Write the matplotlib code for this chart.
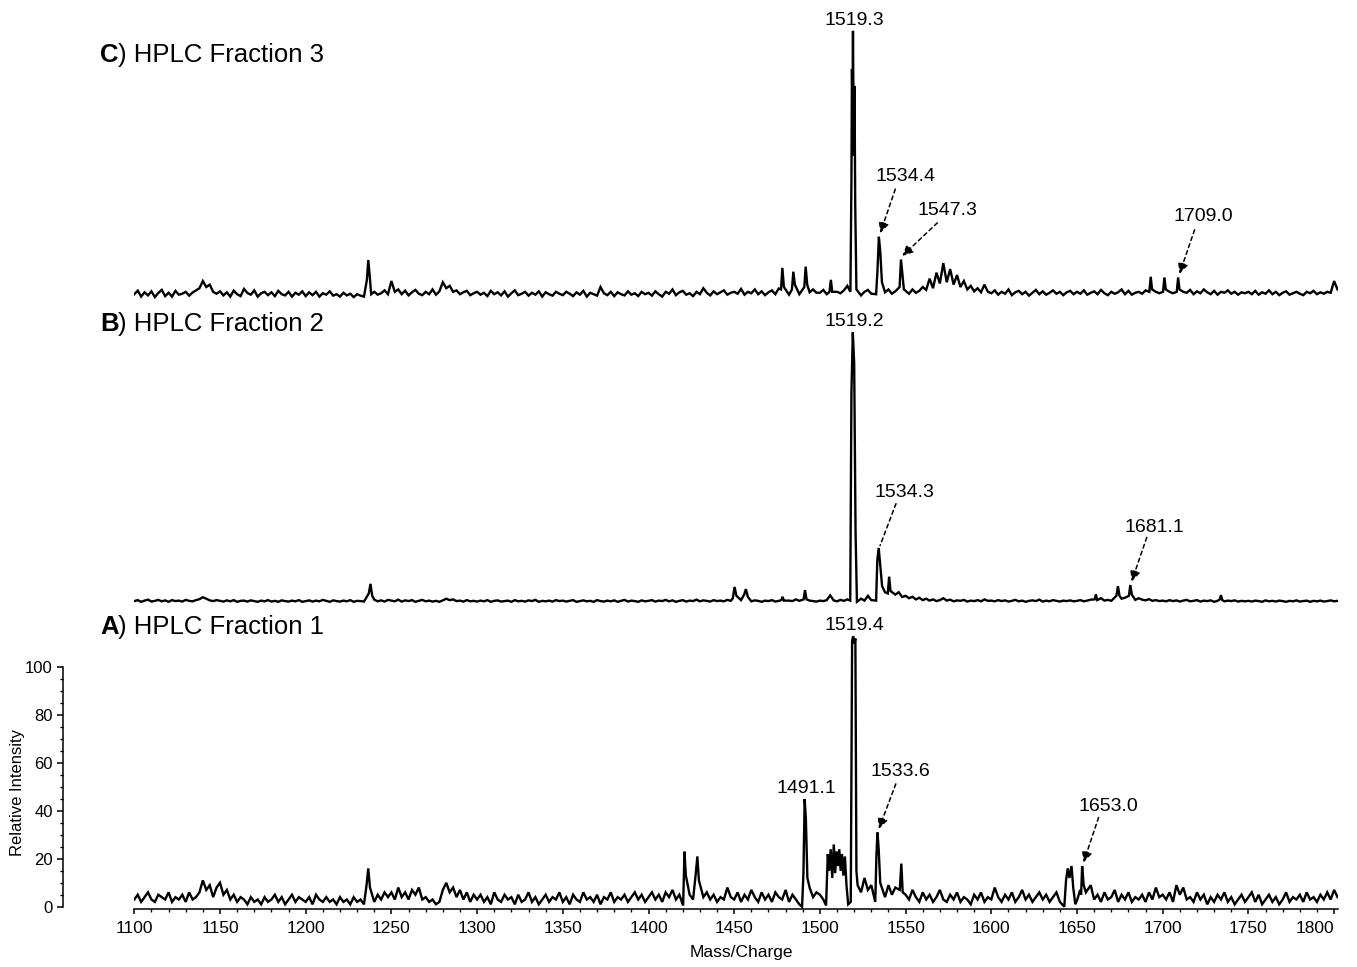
import numpy as np
import matplotlib
matplotlib.use("Agg")
import matplotlib.pyplot as plt

plt.rcParams["font.family"] = ["Liberation Sans", "DejaVu Sans"]

# --- spectra: baseline profile every 2 m/z from 1100, plus resolved peak points ---
MZ_START, MZ_STEP = 1100, 2

base_a = [3, 5, 2, 4, 6, 3, 2, 5, 4, 3, 6, 2, 4, 3, 5, 2, 6, 3, 4, 6, 11, 7, 9, 4, 8,
          10, 5, 7, 3, 5, 2, 4, 3, 1, 4, 2, 3, 1, 4, 2, 3, 5, 2, 4, 1, 3, 5, 2, 4, 3,
          2, 4, 1, 5, 3, 2, 4, 2, 3, 1, 4, 2, 3, 1, 4, 2, 3, 1, 4, 7, 2, 5, 3, 6, 4,
          6, 3, 8, 4, 6, 3, 7, 5, 8, 3, 4, 2, 3, 1, 2, 7, 10, 6, 8, 4, 7, 3, 6, 2, 5,
          3, 5, 2, 4, 1, 6, 3, 2, 5, 3, 4, 1, 5, 2, 3, 6, 2, 4, 1, 3, 5, 2, 4, 3, 6,
          2, 4, 1, 5, 3, 2, 6, 3, 4, 2, 5, 1, 4, 3, 6, 2, 4, 3, 5, 2, 4, 6, 3, 5, 2,
          4, 6, 3, 5, 2, 6, 4, 7, 3, 5, 1, 1, 5, 3, 4, 7, 4, 6, 3, 5, 2, 4, 3, 8, 4,
          3, 6, 2, 5, 3, 7, 4, 2, 6, 3, 5, 2, 6, 4, 3, 7, 2, 5, 3, 1, 2, 3, 8, 4, 6,
          5, 3, 1, 2, 2, 2, 2, 2, 2, 2, 2, 2, 6, 12, 7, 9, 3, 3, 6, 4, 9, 5, 8, 4, 4,
          5, 3, 7, 4, 2, 6, 3, 5, 2, 4, 7, 3, 2, 5, 3, 6, 2, 4, 3, 1, 5, 3, 6, 2, 4,
          3, 8, 4, 2, 5, 3, 6, 2, 4, 7, 3, 5, 2, 4, 6, 3, 5, 2, 4, 6, 2, 3, 1, 1, 1,
          2, 5, 8, 4, 9, 3, 5, 2, 6, 3, 4, 7, 2, 5, 3, 6, 2, 4, 3, 5, 2, 6, 3, 8, 4,
          5, 3, 6, 2, 9, 5, 8, 3, 4, 2, 6, 3, 5, 1, 4, 2, 5, 3, 6, 2, 4, 1, 3, 5, 2,
          4, 6, 2, 5, 1, 3, 5, 2, 4, 1, 3, 6, 2, 4, 3, 5, 2, 6, 3, 4, 2, 5, 3, 6, 3,
          7, 4]

base_b = [0.8, 1.2, 0.5, 1.0, 1.4, 0.6, 0.9, 1.3, 0.7, 1.1, 0.5, 1.2, 0.8, 1.0, 0.6, 1.3, 0.9, 0.7, 1.2, 1.6, 2.4, 1.8, 1.1, 0.8, 1.2,
          0.9, 0.6, 1.1, 0.7, 1.2, 0.5, 0.9, 1.0, 0.6, 1.1, 0.8, 0.5, 1.0, 0.7, 1.2, 0.6, 0.9, 0.5, 1.1, 0.8, 0.6, 1.0, 0.7, 1.2, 0.5,
          0.8, 1.1, 0.6, 1.0, 0.7, 1.3, 0.9, 0.5, 1.1, 0.8, 0.6, 1.0, 0.7, 1.2, 0.5, 0.9, 0.8, 0.6, 1.0, 0.9, 1.4, 0.7, 1.1, 0.6, 1.3,
          1.0, 0.7, 1.4, 0.6, 1.1, 0.8, 1.2, 0.5, 0.9, 1.3, 0.7, 1.0, 0.6, 0.9, 0.5, 1.1, 1.8, 1.2, 1.5, 0.8, 1.0, 0.6, 1.2, 0.7, 0.9,
          0.6, 1.0, 0.7, 1.2, 0.5, 0.9, 1.1, 0.6, 0.8, 1.0, 0.5, 1.2, 0.7, 0.9, 0.6, 1.1, 0.8, 1.3, 0.5, 0.9, 0.7, 1.0, 0.6, 1.2, 0.8,
          1.0, 0.6, 0.9, 1.2, 0.5, 0.8, 1.1, 0.7, 0.9, 0.5, 1.2, 0.8, 0.6, 1.0, 0.7, 1.1, 0.5, 0.9, 1.3, 0.6, 1.0, 0.8, 0.5, 1.1, 0.7,
          0.9, 1.2, 0.6, 1.0, 0.8, 1.3, 0.7, 1.1, 0.5, 0.9, 1.2, 0.6, 1.0, 0.8, 1.4, 0.7, 1.1, 0.9, 0.6, 1.2, 0.8, 1.0, 0.7, 1.3, 0.9,
          1.0, 0.8, 1.2, 0.6, 1.0, 0.7, 1.1, 0.9, 0.5, 1.0, 0.8, 1.2, 0.6, 0.9, 1.1, 0.7, 1.0, 0.8, 1.5, 0.9, 1.2, 0.6, 1.0, 0.8, 0.6,
          1.0, 0.8, 1.2, 3.2, 1.1, 0.7, 1.3, 0.9, 1.5, 1.0, 1.0, 0.2, 1.8, 1.0, 3.0, 1.2, 0.8, 1.0, 6.0, 4.5, 5.0, 7.0, 3.5, 4.5, 2.5,
          3.0, 2.0, 2.6, 1.5, 2.2, 1.2, 1.8, 1.0, 1.5, 0.8, 1.2, 2.0, 1.0, 1.4, 0.7, 1.1, 0.9, 1.3, 0.6, 1.0, 0.8, 1.2, 0.7, 1.5, 0.9,
          1.0, 0.7, 1.2, 0.8, 1.1, 0.6, 0.9, 1.3, 0.7, 1.0, 0.5, 0.9, 1.1, 0.8, 1.4, 0.6, 1.0, 0.7, 1.2, 0.9, 0.6, 1.0, 0.8, 1.1, 0.7,
          0.9, 1.2, 0.7, 1.0, 1.4, 0.8, 1.2, 2.0, 1.0, 1.3, 0.9, 1.5, 1.1, 1.8, 2.2, 1.6, 1.0, 1.3, 2.0, 1.4, 1.1, 1.6, 0.9, 1.2, 0.8,
          1.0, 0.7, 1.2, 0.8, 1.1, 0.6, 1.0, 1.3, 0.7, 0.9, 1.2, 0.6, 1.0, 0.8, 1.1, 0.5, 0.9, 1.2, 0.7, 1.0, 0.8, 1.1, 0.6, 0.9, 0.7,
          0.9, 0.6, 1.0, 0.8, 0.5, 1.1, 0.7, 0.9, 0.6, 1.0, 0.8, 0.5, 0.9, 0.7, 1.1, 0.6, 0.8, 1.0, 0.5, 0.9, 0.7, 1.0, 0.6, 0.8, 1.1,
          0.7, 0.9]

base_c = [2.0, 3.5, 1.0, 2.8, 1.5, 3.2, 0.8, 2.5, 3.8, 1.2, 2.6, 1.0, 3.4, 1.8, 2.2, 3.0, 1.4, 2.7, 3.6, 4.5, 7.5, 5.0, 6.0, 3.0, 2.2,
          3.2, 1.5, 2.8, 1.0, 3.5, 2.0, 1.2, 4.2, 2.5, 1.8, 3.6, 1.0, 2.4, 3.0, 1.6, 2.8, 1.2, 3.4, 2.0, 1.5, 3.0, 1.0, 2.6, 1.8, 3.2,
          1.2, 2.8, 1.6, 3.0, 1.0, 2.4, 1.8, 3.2, 1.4, 2.0, 1.0, 2.6, 1.5, 2.2, 0.8, 2.0, 1.4, 1.0, 2.0, 1.5, 3.0, 1.8, 2.4, 3.6, 2.0,
          7.5, 3.0, 4.0, 2.0, 3.5, 1.5, 2.8, 3.8, 2.2, 1.6, 3.0, 2.0, 4.0, 1.8, 3.2, 7.0, 4.5, 5.5, 3.0, 3.6, 2.0, 2.8, 3.4, 1.6, 2.4,
          3.0, 1.8, 2.6, 1.2, 3.4, 2.0, 2.8, 1.5, 3.2, 1.0, 2.4, 3.6, 1.6, 2.2, 3.0, 1.4, 2.6, 1.8, 3.2, 1.0, 2.8, 2.0, 1.4, 3.0, 2.2,
          1.6, 3.0, 2.2, 1.2, 2.8, 1.8, 3.4, 1.0, 2.6, 2.0, 1.4, 5.0, 2.4, 1.6, 3.0, 1.2, 2.8, 2.0, 1.5, 3.2, 1.8, 2.4, 1.2, 3.0, 2.0,
          2.6, 1.4, 3.2, 2.0, 1.0, 3.0, 2.2, 4.0, 1.6, 2.8, 3.4, 1.8, 2.4, 1.2, 3.0, 2.0, 4.5, 2.6, 1.5, 3.2, 2.0, 2.8, 3.6, 1.8, 2.6,
          3.0, 2.2, 4.2, 1.8, 3.0, 2.4, 4.0, 2.0, 3.2, 1.6, 2.8, 3.6, 2.0, 4.4, 2.6, 3.0, 1.8, 2.4, 3.0, 2.0, 3.4, 2.2, 2.8, 4.0, 2.6,
          2.6, 3.8, 2.0, 3.0, 3.0, 3.0, 2.4, 3.6, 5.5, 2.5, 2.5, 2.5, 1.5, 3.0, 3.8, 2.2, 3.4, 2.0, 3.6, 2.8, 4.0, 2.2, 3.2, 2.6, 3.4,
          3.0, 2.2, 4.0, 2.6, 3.4, 5.0, 3.8, 8.5, 4.5, 11.0, 6.5, 15.0, 7.0, 12.5, 6.0, 10.0, 5.0, 7.5, 4.0, 5.5, 3.2, 4.5, 2.8, 6.0, 3.0,
          2.4, 3.6, 1.8, 3.0, 2.2, 4.0, 1.6, 2.8, 3.4, 2.0, 3.0, 1.4, 2.6, 3.8, 2.0, 3.2, 1.8, 2.6, 3.6, 2.2, 3.0, 1.6, 2.8, 3.4, 2.0,
          3.0, 2.2, 3.6, 1.8, 2.6, 3.2, 2.0, 3.8, 2.4, 1.6, 3.0, 2.2, 2.8, 4.0, 2.0, 3.4, 1.8, 2.6, 3.0, 2.2, 3.6, 2.0, 4.2, 3.0, 2.4,
          3.4, 2.0, 3.0, 2.4, 3.6, 2.2, 3.0, 2.6, 3.8, 2.0, 3.2, 2.4, 4.0, 2.8, 2.0, 3.4, 1.8, 3.0, 2.6, 3.6, 2.2, 3.0, 1.8, 2.8, 2.4,
          3.0, 2.0, 3.4, 1.8, 2.8, 2.2, 3.6, 2.0, 3.0, 1.6, 2.6, 3.2, 1.8, 2.4, 3.0, 2.2, 1.6, 3.0, 2.4, 3.4, 2.0, 2.8, 2.2, 3.0, 2.6,
          7.5, 4.0]

# resolved peaks (m/z, relative intensity)
peak_mz_a = [1235.5, 1236.5, 1237.5,
             1420.2, 1421.0, 1421.8, 1427.6, 1428.5, 1429.4,
             1489.6, 1490.4, 1491.1, 1491.8, 1492.7,
             1503.6, 1504.6, 1505.4, 1506.3, 1507.2, 1508.1, 1508.9, 1509.7, 1510.5,
             1511.3, 1512.1, 1512.9, 1513.7, 1514.6, 1515.5, 1516.5,
             1518.0, 1518.8, 1519.4, 1520.1, 1520.7, 1521.3, 1522.0,
             1532.3, 1533.0, 1533.6, 1534.3, 1535.2,
             1546.6, 1547.5, 1548.3,
             1642.6, 1643.6, 1644.6, 1645.6, 1646.8, 1647.8, 1649.0, 1650.2,
             1651.8, 1652.4, 1653.0, 1653.9, 1655.2]
peak_h_a = [9, 16, 8,
            0.5, 23, 13, 14, 21, 11,
            0, 14, 45, 37, 12,
            0.5, 22, 15, 24, 12, 26, 14, 23, 17,
            24, 15, 22, 13, 21, 9, 1,
            2, 111, 113, 110, 112, 15, 9,
            2, 22, 31, 24, 10,
            7, 18, 6,
            0, 11, 16, 12, 17, 8, 1, 3,
            7, 5, 17, 9, 6]

peak_mz_b = [1236.8, 1237.8, 1238.8,
             1449.2, 1450.2, 1451.3, 1455.8, 1456.8, 1458.0,
             1477.5, 1478.2, 1479.0, 1490.5, 1491.3, 1492.2,
             1517.7, 1518.4, 1519.2, 1520.0, 1520.8, 1521.6,
             1532.8, 1533.5, 1534.3, 1535.2, 1536.3,
             1539.6, 1540.4, 1541.2,
             1660.3, 1661.0, 1661.8, 1673.0, 1673.9, 1674.8,
             1680.3, 1681.1, 1682.0, 1733.3, 1734.0, 1734.8]
peak_h_b = [4, 8, 3,
            2, 6.7, 3, 3.5, 5.8, 2.5,
            1.2, 2.6, 1, 1.5, 5.4, 1.5,
            1, 88, 113, 100, 30, 0.5,
            1, 18, 23, 16, 7,
            4, 11, 5,
            1.5, 3.6, 1.2, 3, 7, 3,
            3, 7.5, 3.5, 1.5, 3.3, 1.2]

peak_mz_c = [1235.7, 1236.5, 1237.3, 1238.2,
             1477.3, 1478.1, 1479.0, 1483.7, 1484.5, 1485.4,
             1490.9, 1491.7, 1492.6, 1505.6, 1506.4, 1507.2,
             1517.8, 1518.4, 1518.7, 1519.0, 1519.3, 1519.8, 1520.2, 1520.6, 1521.3,
             1532.8, 1533.6, 1534.4, 1535.2, 1536.2,
             1546.5, 1547.3, 1548.2, 1549.0,
             1692.2, 1693.0, 1693.8, 1700.2, 1701.0, 1701.8,
             1708.2, 1709.0, 1709.8]
peak_h_c = [8, 16.3, 10, 2,
            4, 13, 5, 4, 11.4, 6,
            5, 13.5, 6, 3, 8, 3,
            3, 50, 96, 80, 112, 60, 89, 40, 4,
            2, 12, 26, 20, 7,
            5, 16.5, 10, 4,
            3, 9.3, 4, 3, 9, 4,
            3, 9, 4]

labels_a = [1491.1, 1519.4, 1533.6, 1653.0]
labels_b = [1519.2, 1534.3, 1681.1]
labels_c = [1519.3, 1534.4, 1547.3, 1709.0]

titles = [("A", ") HPLC Fraction 1"), ("B", ") HPLC Fraction 2"), ("C", ") HPLC Fraction 3")]

# arrow layout: (start dx, start dy, text dx, text dy, arrow head) relative to the tip
arrow_layout = {
    1533.6: (9.9, 18.8, 12.3, 23.8, True),
    1653.0: (8.8, 18.8, 14.6, 23.4, True),
    1534.3: (9.3, 17.5, 14.0, 22.1, False),
    1681.1: (8.8, 18.4, 13.4, 22.6, True),
    1534.4: (8.8, 18.4, 14.6, 23.8, True),
    1547.3: (20.4, 13.8, 26.3, 18.8, True),
    1709.0: (8.8, 18.4, 14.0, 23.8, True),
}


def spectrum(base, pk_mz, pk_h):
    bx = MZ_START + MZ_STEP * np.arange(len(base))
    by = np.asarray(base, dtype=float)
    pm = np.asarray(pk_mz, dtype=float)
    # profile points sitting under a resolved peak are replaced by the peak
    keep = np.abs(bx[:, None] - pm[None, :]).min(axis=1) > 1.0
    x = np.concatenate([bx[keep], pm])
    y = np.concatenate([by[keep], np.asarray(pk_h, dtype=float)])
    order = np.argsort(x)
    return x[order], y[order]


def label_peaks(ax, pk_mz, pk_h, labels):
    for m in labels:
        h = pk_h[pk_mz.index(m)]
        txt = f"{m:.1f}"
        spec = arrow_layout.get(m)
        if spec is None:
            ax.text(m + 0.8, h + 4.5, txt, ha="center", va="center", fontsize=14)
            continue
        sx, sy, lx, ly, head = spec
        tx, ty = m + 0.8, h + (1.5 if head else 1.0)
        style = "-|>,head_length=0.45,head_width=0.22" if head else "-"
        ax.annotate("", xy=(tx, ty), xytext=(tx + sx, ty + sy),
                    arrowprops=dict(arrowstyle=style, linestyle=(0, (2.6, 2.2)),
                                    lw=1.1, color="black", shrinkA=0, shrinkB=0,
                                    mutation_scale=14))
        ax.text(tx + lx, ty + ly, txt, ha="center", va="center", fontsize=14)


W, H = 1357, 967
fig = plt.figure(figsize=(W / 100, H / 100), dpi=100)

PX_MZ, PX_UNIT = 1.714, 2.394
X0, X1, Y0, Y1 = 1100, 1802, -1, 116


def add_panel(zero_from_top):
    left = 134.3
    width = (X1 - X0) * PX_MZ
    bottom = H - zero_from_top + Y0 * PX_UNIT
    height = (Y1 - Y0) * PX_UNIT
    ax = fig.add_axes([left / W, bottom / H, width / W, height / H])
    ax.set_xlim(X0, X1)
    ax.set_ylim(Y0, Y1)
    ax.patch.set_alpha(0)
    return ax


ax_a = add_panel(906.7)
ax_b = add_panel(603)
ax_c = add_panel(299)

panels = [(ax_a, base_a, peak_mz_a, peak_h_a, labels_a),
          (ax_b, base_b, peak_mz_b, peak_h_b, labels_b),
          (ax_c, base_c, peak_mz_c, peak_h_c, labels_c)]

for ax, base, pm, ph, labs in panels:
    x, y = spectrum(base, pm, ph)
    ax.plot(x, y, color="black", lw=1.7, solid_joinstyle="miter")
    label_peaks(ax, pm, ph, labs)

for ax in (ax_b, ax_c):
    ax.axis("off")

# axes only on the bottom spectrum
ax_a.spines["top"].set_visible(False)
ax_a.spines["right"].set_visible(False)
ax_a.spines["left"].set_position(("outward", 51.3))
ax_a.spines["left"].set_bounds(0, 100)
for s in ("left", "bottom"):
    ax_a.spines[s].set_linewidth(1.1)

ax_a.set_yticks(range(0, 101, 20))
ax_a.set_yticks(range(0, 101, 5), minor=True)
xt = list(range(1100, 1801, 50))
ax_a.set_xticks(xt, [str(v) for v in xt])
ax_a.set_xticks(range(1100, 1801, 10), minor=True)
ax_a.tick_params(axis="y", which="major", length=4.3, width=1.1, labelsize=12, pad=3)
ax_a.tick_params(axis="y", which="minor", length=2.4, width=1.0)
ax_a.tick_params(axis="x", which="major", length=3.6, width=1.1, labelsize=12.5, pad=5)
ax_a.tick_params(axis="x", which="minor", length=2.3, width=1.0)
ax_a.get_xticklabels()[-1].set_horizontalalignment("right")

fig.text(18 / W, 1 - 792.5 / H, "Relative Intensity", rotation=90,
         ha="center", va="center", fontsize=12)
fig.text(741 / W, 1 - 953 / H, "Mass/Charge", ha="center", va="center", fontsize=12.5)

# panel titles
for (letter, rest), yc in zip(titles, (627, 324, 55)):
    fig.text(100 / W, 1 - yc / H, letter, fontsize=18.5, fontweight="bold", va="center")
    fig.text(118 / W, 1 - yc / H, rest, fontsize=18.5, va="center")

fig.savefig("out.png", dpi=100)
